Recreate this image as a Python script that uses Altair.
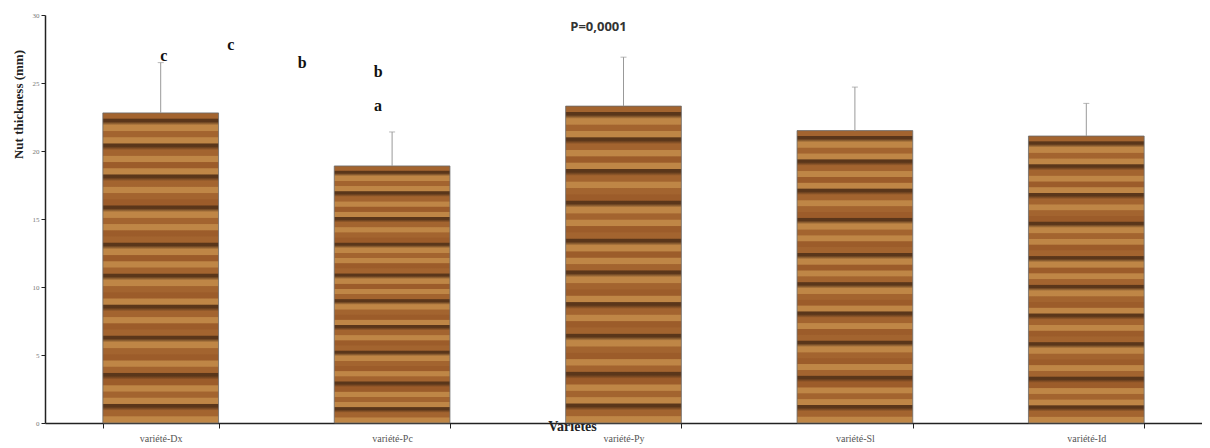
import altair as alt
import pandas as pd

varieties = ["variété-Dx", "variété-Pc", "variété-Py", "variété-Sl", "variété-Id"]
means = [22.8, 18.9, 23.3, 21.5, 21.1]
sds = [3.7, 2.5, 3.6, 3.2, 2.4]

ann_text = ["c", "c", "b", "b", "a"]
ann_cat = ["variété-Dx", "variété-Dx", "variété-Pc", "variété-Pc", "variété-Pc"]
ann_y = [27.0, 27.8, 26.5, 25.8, 23.3]
ann_off = [3, 70, -90, -14, -14]

p_text = ["P=0,0001"]
p_cat = ["variété-Py"]
p_y = [29.1]
p_off = [-25]

df = pd.DataFrame({"v": varieties, "m": means, "sd": sds})
df["hi"] = df["m"] + df["sd"]
ann = pd.DataFrame({"t": ann_text, "v": ann_cat, "y": ann_y, "o": ann_off})
pdf = pd.DataFrame({"t": p_text, "v": p_cat, "y": p_y, "o": p_off})

PLOT_W = 1157
HALF_BAND = PLOT_W / 5 * 0.5 / 2  # half of the band width (paddingInner 0.5)

# wood-like striped fill
L, M, D, O = "#bf8646", "#a3642f", "#5a361a", "#9c5c2a"
pattern = [M, D, L, M, L, D, M, L, O, L, D, M, L, M, O, D, L, M, L, O,
           M, D, L, O, L, M, D, L, M, O, L, D, M, L, O, M, D, L, M, O,
           L, M, D, O, L, M, L, D, M, L]
n = len(pattern)
stops = []
for i, c in enumerate(pattern):
    w = 0.4 if c == D else 0.85
    stops.append({"offset": i / n, "color": c})
    stops.append({"offset": (i + w) / n, "color": c})
wood = {"gradient": "linear", "x1": 0, "y1": 0, "x2": 0, "y2": 1, "stops": stops}

xenc = alt.X("v:N", sort=varieties,
             scale=alt.Scale(paddingInner=0.5, paddingOuter=0.25),
             axis=alt.Axis(title="Variétés", labelAngle=0, labelFont="Liberation Serif",
                           labelFontSize=10, labelColor="#555", labelPadding=5,
                           tickBand="extent", tickSize=5, tickColor="#222", domainColor="#222",
                           domainWidth=1.5,
                           titleFont="Liberation Serif", titleFontSize=14, titleFontWeight="bold",
                           titleColor="#222", titleX=527, titleY=3, titleBaseline="middle",
                           titleAnchor="start", titleAlign="center"))
yscale = alt.Scale(domain=[0, 30], nice=False)

bars = alt.Chart(df).mark_bar(fill=wood, stroke="#6a6a6a", strokeWidth=0.8).encode(
    x=xenc,
    y=alt.Y("m:Q", scale=yscale,
            axis=alt.Axis(title="Nut thickness (mm)", values=[0, 5, 10, 15, 20, 25, 30],
                          grid=False, labelFont="Liberation Serif", labelFontSize=7,
                          labelColor="#777", tickSize=4, tickColor="#222", domainColor="#222",
                          domainWidth=1.5,
                          titleFont="Liberation Serif", titleFontSize=13, titleFontWeight="bold",
                          titleColor="#222", titleX=-27, titleY=89, titleAngle=270,
                          titleAlign="center", titleBaseline="middle")),
)

err = alt.Chart(df).mark_rule(color="#999", strokeWidth=1).encode(
    x=alt.X("v:N", sort=varieties), y="m:Q", y2="hi:Q")
cap = alt.Chart(df).mark_tick(color="#999", thickness=1, size=6, orient="horizontal").encode(
    x=alt.X("v:N", sort=varieties), y="hi:Q")

letters = alt.Chart(ann).transform_calculate(
    oc=f"datum.o + {HALF_BAND}"
).mark_text(font="Liberation Serif", fontSize=16, fontWeight="bold", color="#111").encode(
    x=alt.X("v:N", sort=varieties),
    xOffset=alt.XOffset("oc:Q", scale=None),
    y="y:Q", text="t:N")
ptxt = alt.Chart(pdf).transform_calculate(
    oc=f"datum.o + {HALF_BAND}"
).mark_text(font="Open Sans", fontSize=13, fontWeight="bold", color="#333").encode(
    x=alt.X("v:N", sort=varieties),
    xOffset=alt.XOffset("oc:Q", scale=None),
    y="y:Q", text="t:N")

chart = alt.layer(bars, err, cap, letters, ptxt).properties(
    width=PLOT_W, height=408,
    padding={"left": 37, "top": 7, "right": 0, "bottom": 25},
    autosize="none",
).configure(background="white").configure_view(stroke=None)

chart.save("out.html", embed_options={"renderer": "svg", "actions": False})
